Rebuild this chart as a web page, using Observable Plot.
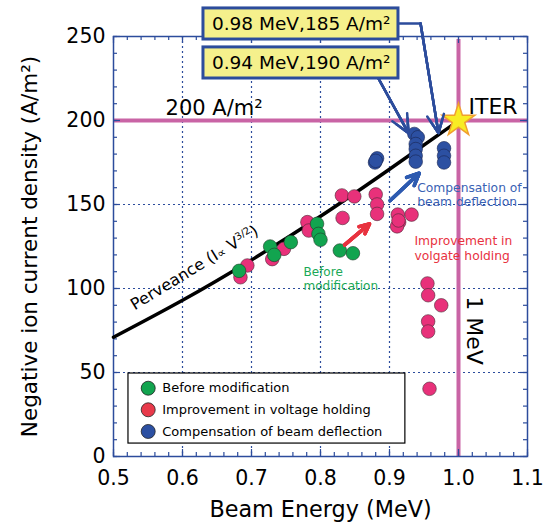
<!DOCTYPE html>
<html><head><meta charset="utf-8">
<script src="https://cdn.jsdelivr.net/npm/d3@7"></script>
<script src="https://cdn.jsdelivr.net/npm/@observablehq/plot@0.6"></script>
<style>body{margin:0;background:#fff}</style>
</head><body><div id="chart"></div>
<script>
// ---- data ----
const seriesNames = ["Before modification", "Improvement in voltage holding", "Compensation of beam deflection"];
const legendColors = ["#12a44f", "#e8394a", "#2c50a2"];
const pointColors = ["#12a44f", "#e8317a", "#2c50a2"];

const beforeEnergy  = [0.682, 0.727, 0.733, 0.757, 0.795, 0.797, 0.800, 0.828, 0.847];
const beforeCurrent = [110.5, 125.0, 120.0, 127.6, 138.5, 132.5, 129.0, 122.6, 121.0];

const voltageEnergy  = [0.694, 0.684, 0.730, 0.747, 0.781, 0.783, 0.831, 0.849, 0.832, 0.880, 0.882, 0.882, 0.912, 0.914, 0.911, 0.913, 0.932, 0.955, 0.956, 0.975, 0.956, 0.956, 0.958];
const voltageCurrent = [113.7, 106.7, 117.5, 123.6, 139.5, 134.5, 155.4, 154.8, 142.0, 156.0, 150.0, 144.4, 144.0, 139.5, 137.0, 140.5, 144.0, 103.0, 96.0, 90.0, 80.4, 74.4, 40.3];

const deflectEnergy  = [0.879, 0.882, 0.880, 0.936, 0.941, 0.938, 0.938, 0.938, 0.938, 0.979, 0.979, 0.979];
const deflectCurrent = [175.0, 177.5, 176.0, 192.0, 190.0, 186.0, 183.0, 179.0, 175.5, 183.5, 179.0, 175.0];

// perveance line (I ∝ V^3/2)
const perveanceEnergy  = [0.5, 0.6, 0.7, 0.8, 0.9, 0.99];
const perveanceCurrent = [71, 93, 117, 143, 171, 197];

const iterEnergy = 1.0, iterCurrent = 200;
const calloutLabels = ["0.98 MeV,185 A/m²", "0.94 MeV,190 A/m²"];

const xTicks = [0.5, 0.6, 0.7, 0.8, 0.9, 1.0, 1.1];
const yTicks = [0, 50, 100, 150, 200, 250];
const xGrid = [0.6, 0.7, 0.8, 0.9];
const yGrid = [50, 100, 150];

// ---- build tables ----
const points = [];
[[beforeEnergy, beforeCurrent], [voltageEnergy, voltageCurrent], [deflectEnergy, deflectCurrent]]
  .forEach(([xs, ys], s) => xs.forEach((x, i) => points.push({series: seriesNames[s], s, energy: x, current: ys[i]})));
const perveance = perveanceEnergy.map((x, i) => ({energy: x, current: perveanceCurrent[i]}));
const xMinor = d3.range(0.5, 1.1001, 0.02);
const yMinor = d3.range(0, 250.1, 10);

const W = 545, H = 525, mL = 113, mR = 18, mT = 36, mB = 69;
const pw = W - mL - mR, ph = H - mT - mB;
const blue = "#2c4c9c", pink = "#c964a5";
const font = "DejaVu Sans";
const heads = [12, 9, 6, 3]; // layered heads give a solid arrowhead

function solidArrow(x1, y1, x2, y2, stroke, strokeWidth) {
  return heads.map(h => Plot.arrow([0], {x1, y1, x2, y2, stroke, strokeWidth, headLength: h, headAngle: 50}));
}

const chart = Plot.plot({
  width: W, height: H, marginLeft: mL, marginRight: mR, marginTop: mT, marginBottom: mB,
  x: {domain: [0.5, 1.1], axis: null},
  y: {domain: [0, 250], axis: null},
  style: {fontFamily: font, background: "white", overflow: "visible"},
  marks: [
    // grid
    Plot.ruleX(xGrid, {x: d => d, stroke: blue, strokeWidth: 1.2, strokeDasharray: "2,3"}),
    Plot.ruleY(yGrid, {y: d => d, stroke: blue, strokeWidth: 1.2, strokeDasharray: "2,3"}),
    // reference lines
    Plot.ruleY([iterCurrent], {y: d => d, stroke: pink, strokeWidth: 4}),
    Plot.ruleX([iterEnergy], {x: d => d, stroke: pink, strokeWidth: 4, insetTop: 3}),
    // frame + inward ticks
    Plot.frame({stroke: blue, strokeWidth: 1.5}),
    Plot.tickX(xMinor, {x: d => d, stroke: blue, strokeWidth: 1.2, insetBottom: ph - 4}),
    Plot.tickX(xMinor, {x: d => d, stroke: blue, strokeWidth: 1.2, insetTop: ph - 4}),
    Plot.tickX(xTicks, {x: d => d, stroke: blue, strokeWidth: 1.2, insetBottom: ph - 7}),
    Plot.tickX(xTicks, {x: d => d, stroke: blue, strokeWidth: 1.2, insetTop: ph - 7}),
    Plot.tickY(yMinor, {y: d => d, stroke: blue, strokeWidth: 1.2, insetRight: pw - 4}),
    Plot.tickY(yMinor, {y: d => d, stroke: blue, strokeWidth: 1.2, insetLeft: pw - 4}),
    Plot.tickY(yTicks, {y: d => d, stroke: blue, strokeWidth: 1.2, insetRight: pw - 7}),
    Plot.tickY(yTicks, {y: d => d, stroke: blue, strokeWidth: 1.2, insetLeft: pw - 7}),
    // perveance curve
    Plot.line(perveance, {x: "energy", y: "current", curve: "natural", stroke: "black", strokeWidth: 3.5}),
    // data points (pink under green, blue separate)
    Plot.dot(points.filter(d => d.s === 1), {x: "energy", y: "current", r: 6.8, fill: pointColors[1], stroke: "#4a2a35", strokeWidth: 0.6}),
    Plot.dot(points.filter(d => d.s === 0), {x: "energy", y: "current", r: 6.8, fill: pointColors[0], stroke: "#1f3a28", strokeWidth: 0.6}),
    Plot.dot(points.filter(d => d.s === 2), {x: "energy", y: "current", r: 6.8, fill: pointColors[2], stroke: "#1a2550", strokeWidth: 0.6}),
    // ITER star
    Plot.dot([0], {x: () => iterEnergy, y: () => iterCurrent, symbol: "star", r: 10.3, fill: "#f8ec24", stroke: "#f0a030", strokeWidth: 1.5}),
    // annotation arrows
    ...solidArrow(0.835, 126, 0.871, 138.5, "#e8323f", 3.5),
    ...solidArrow(0.901, 152.4, 0.943, 168.6, "#2d5ab0", 3.5),
    // callout connectors
    Plot.line([[0.913, 257.7], [0.945, 257.7]], {x: d => d[0], y: d => d[1], stroke: blue, strokeWidth: 2.5}),
    ...solidArrow(0.945, 257.7, 0.971, 192.5, blue, 2.5),
    ...solidArrow(0.884, 225, 0.9275, 192.5, blue, 2.5),
    // callout boxes
    Plot.rect(calloutLabels, {x1: 0.6304, x2: 0.913, y1: (d, i) => [248.2, 225][i], y2: (d, i) => [266.7, 243.5][i], fill: "#f5f08c", stroke: blue, strokeWidth: 3}),
    Plot.text(calloutLabels, {x: 0.772, y: (d, i) => [257.4, 234.2][i], text: d => d, fontSize: 18.5, fill: "black"}),
    // text labels
    Plot.text(["200 A/m²"], {x: 0.5754, y: 207.1, text: d => d, textAnchor: "start", fontSize: 21, fill: "black"}),
    Plot.text(["ITER"], {x: 1.0145, y: 208.3, text: d => d, textAnchor: "start", fontSize: 22, fill: "black"}),
    Plot.text(["1 MeV"], {x: 1.0232, y: 75, text: d => d, rotate: 90, fontSize: 22, fill: "black"}),
    Plot.text(["Perveance (I∝ V3/2)"], {x: 0.6175, y: 112.3, text: d => d, rotate: -31.5, fontSize: 16, fill: "black"}),
    Plot.text(["Before\nmodification"], {x: 0.7754, y: 105.8, text: d => d, textAnchor: "start", fontSize: 12, lineHeight: 1.1, fill: "#1aa856"}),
    Plot.text(["Compensation of\nbeam deflection"], {x: 0.9401, y: 156.1, text: d => d, textAnchor: "start", fontSize: 12.3, lineHeight: 1.15, fill: "#3a62b4"}),
    Plot.text(["Improvement in\nvolgate holding"], {x: 0.9362, y: 124.3, text: d => d, textAnchor: "start", fontSize: 12.3, lineHeight: 1.25, fill: "#e8323f"}),
    // legend
    Plot.rect([0], {x1: 0.5217, x2: 0.923, y1: 7.7, y2: 49.4, fill: "white", stroke: "black", strokeWidth: 1.2}),
    Plot.dot(seriesNames, {x: 0.5503, y: (d, i) => [40.65, 27.8, 14.9][i], r: 7, fill: (d, i) => legendColors[i], stroke: "#222", strokeWidth: 0.8}),
    Plot.text(seriesNames, {x: 0.5706, y: (d, i) => [40.65, 27.8, 14.9][i], text: d => d, textAnchor: "start", fontSize: 13, fill: "black"}),
    // axes
    Plot.axisX(xTicks, {tickSize: 0, tickPadding: 14, tickFormat: d3.format(".1f"), fontSize: 20.5, label: null, fill: "black"}),
    Plot.axisY(yTicks, {tickSize: 0, tickPadding: 8, fontSize: 20.5, label: null, fill: "black"}),
    Plot.text(["Beam Energy (MeV)"], {frameAnchor: "bottom", dy: 53, lineAnchor: "middle", text: d => d, fontSize: 22.3, fill: "black"}),
    Plot.text(["Negative ion current density (A/m²)"], {frameAnchor: "left", dx: -83, rotate: -90, textAnchor: "middle", text: d => d, fontSize: 21.5, fill: "black"})
  ]
});
chart.setAttribute("fill", "black");
document.getElementById("chart").append(chart);

// superscript the exponent of the perveance label
d3.select(chart).selectAll("text").each(function () {
  if (this.textContent === "Perveance (I∝ V3/2)") {
    const t = d3.select(this);
    t.text("Perveance (I");
    t.append("tspan").attr("font-size", "12").text("∝");
    t.append("tspan").text(" V");
    t.append("tspan").attr("font-size", "10").attr("dy", "-6").text("3/2");
    t.append("tspan").attr("dy", "6").text(")");
  }
});
</script>
</body></html>
